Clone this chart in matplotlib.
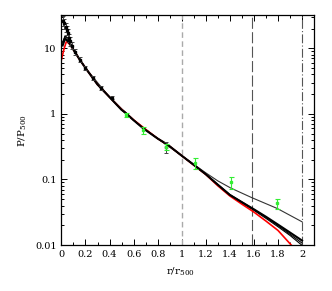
import matplotlib
matplotlib.use('Agg')
import matplotlib.pyplot as plt
from matplotlib.ticker import MultipleLocator, NullFormatter

plt.rcParams['font.family'] = ['DejaVu Serif']
plt.rcParams['mathtext.fontset'] = 'dejavuserif'

# model curves
r_main = [0.01, 0.03, 0.05, 0.08, 0.1, 0.15, 0.2, 0.3, 0.4, 0.5, 0.53, 0.6, 0.68, 0.8, 0.87, 0.9, 1.0,
          1.1, 1.2, 1.3, 1.4, 1.5, 1.6, 1.7, 1.8, 1.9, 2.0]
p_main = [11.0, 14.0, 13.0, 11.0, 9.5, 6.8, 5.0, 2.8, 1.8, 1.15, 1.05, 0.8, 0.6, 0.42, 0.35, 0.32, 0.23,
          0.167, 0.12, 0.083, 0.058, 0.045, 0.035, 0.027, 0.0205, 0.0155, 0.0117]

r_b2 = [0.01, 0.03, 0.05, 0.08, 0.1, 0.15, 0.2, 0.3, 0.4, 0.5, 0.6, 0.7, 0.8, 0.9, 1.0, 1.1, 1.2, 1.3,
        1.4, 1.5, 1.6, 1.7, 1.8, 1.9, 2.0]
p_b2 = [12.0, 15.5, 14.5, 11.5, 9.6, 6.8, 5.0, 2.8, 1.8, 1.15, 0.8, 0.57, 0.42, 0.32, 0.23, 0.167,
        0.121, 0.084, 0.059, 0.0455, 0.035, 0.0265, 0.0198, 0.0146, 0.0107]
p_b3 = [12.5, 15.0, 14.0, 11.2, 9.5, 6.8, 5.0, 2.8, 1.8, 1.15, 0.8, 0.57, 0.42, 0.32, 0.23, 0.166,
        0.119, 0.082, 0.057, 0.044, 0.0338, 0.0255, 0.019, 0.014, 0.0099]

r_thin = [0.1, 0.2, 0.4, 0.6, 0.8, 1.0, 1.1, 1.2, 1.3, 1.407, 1.58, 1.795, 2.0]
p_thin = [9.5, 5.0, 1.8, 0.8, 0.42, 0.23, 0.17, 0.126, 0.095, 0.074, 0.053, 0.036, 0.0226]

r_red = [0.0, 0.02, 0.04, 0.06, 0.08, 0.1, 0.15, 0.2, 0.3, 0.4, 0.5, 0.6, 0.7, 0.8, 0.9, 1.0, 1.1,
         1.2, 1.3, 1.4, 1.5, 1.6, 1.7, 1.8, 1.91]
p_red = [6.7, 9.5, 12.5, 12.0, 10.8, 9.5, 6.8, 5.0, 2.8, 1.8, 1.17, 0.81, 0.58, 0.42, 0.32, 0.23,
         0.165, 0.119, 0.08, 0.056, 0.042, 0.0318, 0.0232, 0.0167, 0.010]

# X-ray points (black)
r_x = [0.015, 0.025, 0.035, 0.045, 0.055, 0.065, 0.075, 0.09, 0.11, 0.154, 0.195, 0.26, 0.326, 0.417, 0.866]
p_x = [26.0, 24.0, 21.0, 19.0, 17.0, 14.5, 13.0, 11.0, 8.8, 6.7, 5.0, 3.5, 2.5, 1.77, 0.31]
e_x = [4.5, 4.0, 3.5, 3.0, 2.8, 2.2, 2.0, 1.4, 1.0, 0.6, 0.4, 0.25, 0.15, 0.1, 0.06]

# SZ points (green)
r_sz = [0.534, 0.68, 0.866, 1.108, 1.407, 1.795]
p_sz = [0.96, 0.56, 0.315, 0.178, 0.09, 0.043]
lo_sz = [0.08, 0.06, 0.035, 0.033, 0.018, 0.008]
hi_sz = [0.075, 0.06, 0.035, 0.032, 0.018, 0.008]

fig = plt.figure(figsize=(3.32, 2.91), dpi=100)
ax = fig.add_axes([0.185, 0.158, 0.761, 0.79])

ax.axvline(1.0, color='#aaaaaa', ls=(0, (4, 2.5)), lw=1.0)
ax.axvline(1.582, color='#555555', ls=(0, (10, 3)), lw=0.8)
ax.axvline(2.0, color='#555555', ls=(0, (8, 2, 1, 2)), lw=0.8)

ax.plot(r_thin, p_thin, color='#333333', lw=0.8)
ax.plot(r_b2, p_b2, color='black', lw=0.8)
ax.plot(r_b2, p_b3, color='black', lw=0.8)
ax.plot(r_red, p_red, color='red', lw=1.2)
ax.plot(r_main, p_main, color='black', lw=1.5)

ax.errorbar(r_x, p_x, yerr=e_x, fmt='s', ms=1.5, color='black', ecolor='#444444',
            elinewidth=0.7, capsize=1.5, capthick=0.7)
ax.errorbar(r_sz, p_sz, yerr=[lo_sz, hi_sz], fmt='s', ms=1.8, color='#33ee33', ecolor='#33ee33',
            elinewidth=0.8, capsize=1.8, capthick=0.8)

ax.set_yscale('log')
ax.set_xlim(0, 2.1)
ax.set_ylim(0.01, 32)

ax.xaxis.set_minor_locator(MultipleLocator(0.1))
ax.set_xticks([0, 0.2, 0.4, 0.6, 0.8, 1.0, 1.2, 1.4, 1.6, 1.8, 2.0])
ax.set_xticklabels(['0', '0.2', '0.4', '0.6', '0.8', '1', '1.2', '1.4', '1.6', '1.8', '2'])
ax.set_yticks([0.01, 0.1, 1, 10])
ax.set_yticklabels(['0.01', '0.1', '1', '10'])
ax.yaxis.set_minor_formatter(NullFormatter())

ax.tick_params(which='both', direction='in', top=True, right=True, labelsize=7, width=0.7)
ax.tick_params(which='major', length=4)
ax.tick_params(which='minor', length=2)
for s in ax.spines.values():
    s.set_linewidth(0.9)

ax.set_xlabel(r'r/r$_{500}$', fontsize=7.5)
ax.set_ylabel(r'P/P$_{500}$', fontsize=7.5)
ax.xaxis.set_label_coords(0.47, -0.09)
ax.yaxis.set_label_coords(-0.13, 0.5)

fig.savefig('out.png', dpi=100)
